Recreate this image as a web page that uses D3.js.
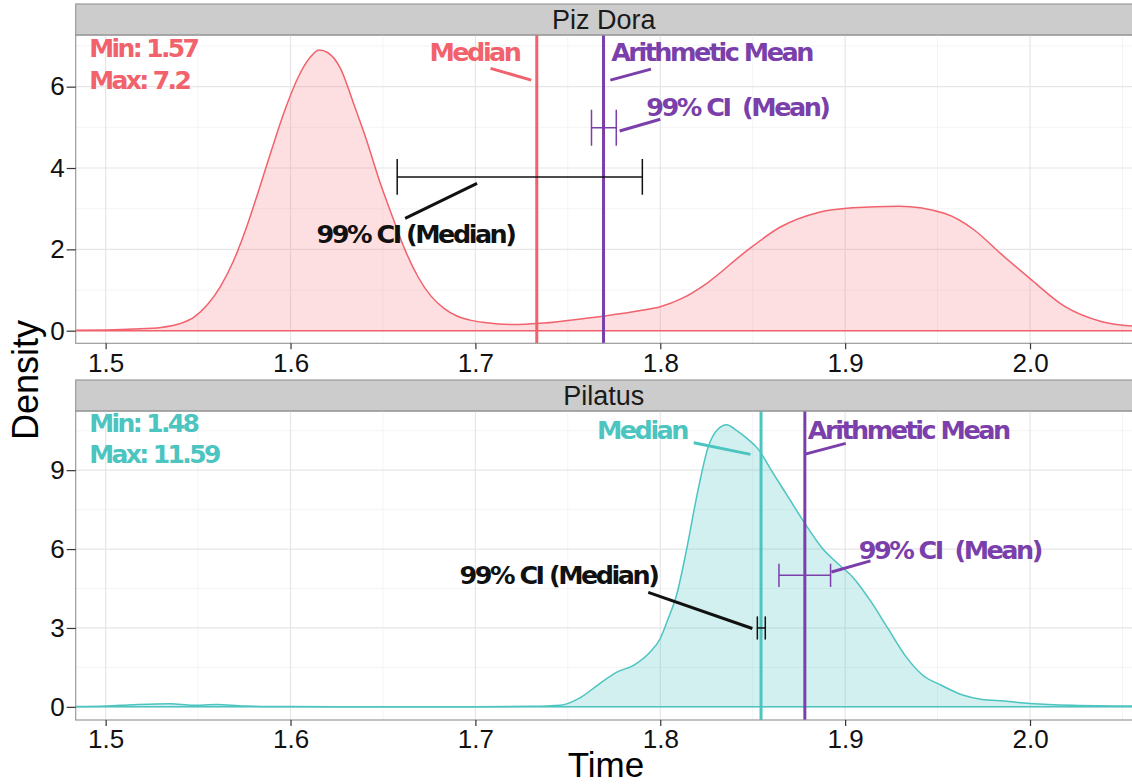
<!DOCTYPE html>
<html>
<head>
<meta charset="utf-8">
<script src="https://cdn.jsdelivr.net/npm/d3@7"></script>
<style>
  body { margin: 0; background: #fff; }
  svg { display: block; }
</style>
</head>
<body>
<script>
const w = 1132;
const h = 784;

const pink = "rgb(241, 98, 108)";
const teal = "rgb(76, 196, 192)";
const purple = "rgb(122, 63, 170)";

// x ticks shared by both panels
const xTicks = [1.5, 1.6, 1.7, 1.8, 1.9, 2.0];

// Piz Dora density curve
const pizTime = [1.484, 1.50, 1.515, 1.53, 1.54, 1.548, 1.555, 1.562, 1.569, 1.576, 1.583, 1.59, 1.597, 1.604,
  1.611, 1.6155, 1.62, 1.627, 1.634, 1.641, 1.648, 1.655, 1.662, 1.669, 1.676, 1.683, 1.69, 1.697, 1.705,
  1.72, 1.735, 1.75, 1.77, 1.79, 1.80, 1.812, 1.825, 1.845, 1.865, 1.885, 1.904, 1.929, 1.954, 1.97, 1.984,
  2.00, 2.019, 2.039, 2.056];
const pizDensity = [0.01, 0.02, 0.04, 0.08, 0.17, 0.34, 0.64, 1.08, 1.7, 2.52, 3.48, 4.48, 5.43, 6.22,
  6.74, 6.9, 6.84, 6.45, 5.6, 4.7, 3.7, 2.82, 1.98, 1.32, 0.85, 0.55, 0.36, 0.26, 0.2,
  0.15, 0.18, 0.25, 0.36, 0.5, 0.59, 0.8, 1.16, 1.9, 2.55, 2.9, 3.02, 3.06, 2.88, 2.47, 1.9,
  1.28, 0.59, 0.22, 0.11];

// Pilatus density curve
const pilTime = [1.484, 1.50, 1.515, 1.535, 1.547, 1.56, 1.575, 1.60, 1.65, 1.70, 1.73, 1.746, 1.756, 1.766,
  1.776, 1.786, 1.794, 1.80, 1.804, 1.809, 1.814, 1.82, 1.826, 1.831, 1.836, 1.841, 1.847, 1.853, 1.86,
  1.869, 1.878, 1.888, 1.896, 1.904, 1.914, 1.923, 1.933, 1.942, 1.952, 1.964, 1.974, 1.986, 2.00, 2.023, 2.056];
const pilDensity = [0.01, 0.03, 0.08, 0.12, 0.06, 0.09, 0.03, 0.01, 0.005, 0.005, 0.02, 0.06, 0.32, 0.82,
  1.3, 1.6, 2.05, 2.6, 3.3, 4.3, 5.9, 8.1, 9.9, 10.55, 10.73, 10.52, 10.2, 9.8, 9.0,
  8.0, 7.0, 6.0, 5.45, 4.94, 4.0, 3.0, 1.9, 1.2, 0.82, 0.44, 0.28, 0.22, 0.13, 0.06, 0.03];

// summary values
const panelNames = ["Piz Dora", "Pilatus"];
const medians = [1.7332, 1.8545];
const means = [1.7693, 1.8782];
const medianCI = [[1.6577, 1.7903], [1.8525, 1.8568]];
const meanCI = [[1.7628, 1.7762], [1.8642, 1.8921]];
const medianCIy = [3.78, 3.0];
const meanCIy = [4.99, 5.0];
const minLabels = ["Min: 1.57", "Min: 1.48"];
const maxLabels = ["Max: 7.2", "Max: 11.59"];
const yTicksTop = [0, 2, 4, 6];
const yTicksBottom = [0, 3, 6, 9];
const yDomainTop = [-0.31, 7.27];
const yDomainBottom = [-0.5, 11.25];

// annotation texts: [label, x, y, colour key]
const notesTop = [
  ["Median", 1.6995, 6.85, "main"],
  ["Arithmetic Mean", 1.8277, 6.85, "mean"],
  ["99% CI\u00a0 (Mean)", 1.8417, 5.5, "mean"],
  ["99% CI (Median)", 1.6676, 2.39, "black"]
];
const notesBottom = [
  ["Median", 1.7901, 10.52, "main"],
  ["Arithmetic Mean", 1.9341, 10.52, "mean"],
  ["99% CI\u00a0 (Mean)", 1.9566, 5.96, "mean"],
  ["99% CI (Median)", 1.7449, 5.01, "black"]
];
const minMaxY = [[6.94, 6.16], [10.8, 9.63]];
const minMaxX = 1.4911;

// leader segments: [x1, y1, x2, y2, colour key]
const leadersTop = [
  [1.7082, 6.45, 1.7302, 6.16, "main"],
  [1.773, 6.16, 1.795, 6.43, "mean"],
  [1.778, 4.91, 1.80, 5.2, "mean"],
  [1.662, 2.76, 1.7009, 3.62, "black"]
];
const leadersBottom = [
  [1.8181, 10.04, 1.8488, 9.6, "main"],
  [1.8779, 9.6, 1.9003, 10.02, "mean"],
  [1.8926, 5.13, 1.9137, 5.55, "mean"],
  [1.7935, 4.35, 1.8498, 2.98, "black"]
];
const capHalf = 0.44;

const svg = d3.select("body")
  .append("svg")
  .attr("width", w)
  .attr("height", h);

const left = 75.7;
const right = 1133;
const x = d3.scaleLinear().domain([1.4838, 2.0557]).range([left, right]);

const panels = [
  { name: panelNames[0], stripTop: 4, top: 35, bottom: 343.3, color: pink, fill: "rgba(248, 118, 130, 0.24)",
    time: pizTime, dens: pizDensity, yTicks: yTicksTop, yDomain: yDomainTop, notes: notesTop, leaders: leadersTop },
  { name: panelNames[1], stripTop: 380, top: 411, bottom: 720, color: teal, fill: "rgba(76, 196, 192, 0.25)",
    time: pilTime, dens: pilDensity, yTicks: yTicksBottom, yDomain: yDomainBottom, notes: notesBottom, leaders: leadersBottom }
];

const annoFont = "'DejaVu Sans', sans-serif";
const axisFont = "'Liberation Sans', Arial, sans-serif";

panels.forEach((p, i) => {
  const y = d3.scaleLinear().domain(p.yDomain).range([p.bottom, p.top]);
  const colorOf = k => k === "main" ? p.color : (k === "mean" ? purple : "#111");

  const clipId = "clip" + i;
  svg.append("clipPath").attr("id", clipId)
    .append("rect")
    .attr("x", left).attr("y", p.top)
    .attr("width", right - left).attr("height", p.bottom - p.top);

  // strip
  svg.append("rect")
    .attr("x", left).attr("y", p.stripTop)
    .attr("width", right - left + 2).attr("height", p.top - p.stripTop)
    .attr("fill", "#cccccc")
    .attr("stroke", "#9a9a9a")
    .attr("stroke-width", 1.2);
  svg.append("text")
    .attr("x", (left + 1132) / 2)
    .attr("y", (p.stripTop + p.top) / 2)
    .attr("dy", "0.36em")
    .attr("text-anchor", "middle")
    .attr("font-family", axisFont)
    .attr("font-size", 27)
    .attr("fill", "#1a1a1a")
    .text(p.name);

  const g = svg.append("g").attr("clip-path", "url(#" + clipId + ")");

  // grid: minor then major
  const yStep = p.yTicks[1] - p.yTicks[0];
  const yMinor = p.yTicks.map(t => t + yStep / 2).concat([p.yTicks[0] - yStep / 2]);
  const xMinor = xTicks.map(t => t + 0.05).concat([1.45]);

  g.selectAll(".xminor").data(xMinor).enter().append("line")
    .attr("x1", d => x(d)).attr("x2", d => x(d))
    .attr("y1", p.top).attr("y2", p.bottom)
    .attr("stroke", "#f4f4f4").attr("stroke-width", 1);
  g.selectAll(".yminor").data(yMinor).enter().append("line")
    .attr("x1", left).attr("x2", right)
    .attr("y1", d => y(d)).attr("y2", d => y(d))
    .attr("stroke", "#f4f4f4").attr("stroke-width", 1);
  g.selectAll(".xmajor").data(xTicks).enter().append("line")
    .attr("x1", d => x(d)).attr("x2", d => x(d))
    .attr("y1", p.top).attr("y2", p.bottom)
    .attr("stroke", "#e6e6e6").attr("stroke-width", 1.2);
  g.selectAll(".ymajor").data(p.yTicks).enter().append("line")
    .attr("x1", left).attr("x2", right)
    .attr("y1", d => y(d)).attr("y2", d => y(d))
    .attr("stroke", "#e6e6e6").attr("stroke-width", 1.2);

  // density
  const pts = p.time.map((t, j) => [t, p.dens[j]]);
  const area = d3.area()
    .x(d => x(d[0])).y0(y(0)).y1(d => y(d[1]))
    .curve(d3.curveMonotoneX);
  const line = d3.line()
    .x(d => x(d[0])).y(d => y(d[1]))
    .curve(d3.curveMonotoneX);

  g.append("path").attr("d", area(pts)).attr("fill", p.fill);
  g.append("path").attr("d", line(pts))
    .attr("fill", "none").attr("stroke", p.color).attr("stroke-width", 1.5);
  g.append("line")
    .attr("x1", x(p.time[0])).attr("x2", x(p.time[p.time.length - 1]))
    .attr("y1", y(0)).attr("y2", y(0))
    .attr("stroke", p.color).attr("stroke-width", 1.5);

  // vertical median / mean lines
  g.append("line")
    .attr("x1", x(medians[i])).attr("x2", x(medians[i]))
    .attr("y1", p.top).attr("y2", p.bottom)
    .attr("stroke", p.color).attr("stroke-width", 3);
  g.append("line")
    .attr("x1", x(means[i])).attr("x2", x(means[i]))
    .attr("y1", p.top).attr("y2", p.bottom)
    .attr("stroke", purple).attr("stroke-width", 3);

  // error bars
  const bars = [
    { lo: medianCI[i][0], hi: medianCI[i][1], yv: medianCIy[i], c: "#111" },
    { lo: meanCI[i][0], hi: meanCI[i][1], yv: meanCIy[i], c: purple }
  ];
  bars.forEach(b => {
    g.append("line")
      .attr("x1", x(b.lo)).attr("x2", x(b.hi))
      .attr("y1", y(b.yv)).attr("y2", y(b.yv))
      .attr("stroke", b.c).attr("stroke-width", 1.5);
    [b.lo, b.hi].forEach(v => {
      g.append("line")
        .attr("x1", x(v)).attr("x2", x(v))
        .attr("y1", y(b.yv - capHalf)).attr("y2", y(b.yv + capHalf))
        .attr("stroke", b.c).attr("stroke-width", 1.5);
    });
  });

  // leader segments
  g.selectAll(".leader").data(p.leaders).enter().append("line")
    .attr("x1", d => x(d[0])).attr("y1", d => y(d[1]))
    .attr("x2", d => x(d[2])).attr("y2", d => y(d[3]))
    .attr("stroke", d => colorOf(d[4]))
    .attr("stroke-width", 3);

  // annotation text
  g.selectAll(".note").data(p.notes).enter().append("text")
    .attr("x", d => x(d[1])).attr("y", d => y(d[2]))
    .attr("dy", "0.36em")
    .attr("text-anchor", "middle")
    .attr("font-family", annoFont)
    .attr("font-weight", 700)
    .attr("font-size", 25.5)
    .attr("letter-spacing", "-2.5px")
    .attr("fill", d => colorOf(d[3]))
    .text(d => d[0]);

  [minLabels[i], maxLabels[i]].forEach((txt, k) => {
    g.append("text")
      .attr("x", x(minMaxX)).attr("y", y(minMaxY[i][k]))
      .attr("dy", "0.36em")
      .attr("font-family", annoFont)
      .attr("font-weight", 700)
      .attr("font-size", 25)
      .attr("letter-spacing", "-2.6px")
      .attr("fill", p.color)
      .text(txt);
  });

  // panel border (left + bottom visible)
  svg.append("rect")
    .attr("x", left).attr("y", p.top)
    .attr("width", right - left + 2).attr("height", p.bottom - p.top)
    .attr("fill", "none")
    .attr("stroke", "#9a9a9a")
    .attr("stroke-width", 1.2);

  // axes
  const xAxis = svg.append("g")
    .attr("transform", "translate(0," + p.bottom + ")")
    .call(d3.axisBottom(x).tickValues(xTicks).tickFormat(d3.format(".1f")).tickSize(6).tickPadding(4));
  const yAxis = svg.append("g")
    .attr("transform", "translate(" + left + ",0)")
    .call(d3.axisLeft(y).tickValues(p.yTicks).tickSize(9).tickPadding(2));
  [xAxis, yAxis].forEach(a => {
    a.select(".domain").remove();
    a.selectAll(".tick line").attr("stroke", "#333").attr("stroke-width", 1.2);
    a.selectAll(".tick text")
      .attr("font-family", axisFont)
      .attr("font-size", 26)
      .attr("fill", "#111");
  });
});

// axis titles
svg.append("text")
  .attr("transform", "translate(38,380) rotate(-90)")
  .attr("text-anchor", "middle")
  .attr("font-family", axisFont)
  .attr("font-size", 36)
  .attr("fill", "#000")
  .text("Density");

svg.append("text")
  .attr("x", 606).attr("y", 777)
  .attr("text-anchor", "middle")
  .attr("font-family", axisFont)
  .attr("font-size", 35)
  .attr("fill", "#000")
  .text("Time");
</script>
</body>
</html>
